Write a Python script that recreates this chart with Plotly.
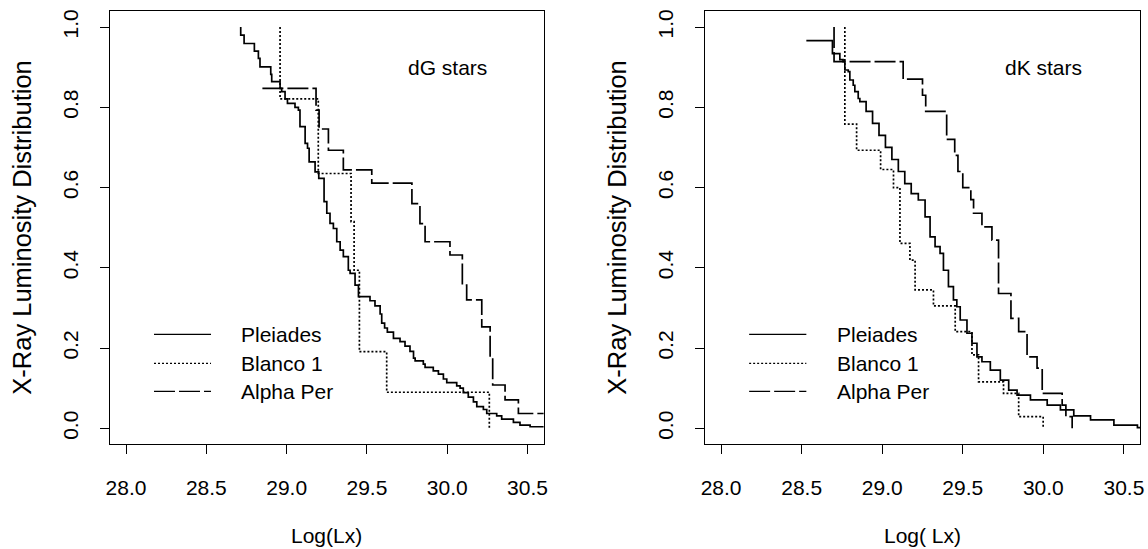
import plotly.graph_objects as go

W, H = 1148, 549

# ---- dG stars: step locations (log Lx) and distribution level after each step ----
plei_g_lx = [28.714, 28.714, 28.735, 28.799, 28.824, 28.834, 28.901, 28.907, 28.959, 28.969,
             28.990, 29.005, 29.052, 29.073, 29.083, 29.115, 29.130, 29.140, 29.177, 29.200,
             29.233, 29.250, 29.270, 29.291, 29.312, 29.333, 29.353, 29.384, 29.395, 29.426,
             29.447, 29.519, 29.550, 29.582, 29.592, 29.610, 29.627, 29.665, 29.706, 29.737,
             29.768, 29.790, 29.800, 29.851, 29.862, 29.913, 29.945, 29.976, 29.997, 30.059,
             30.080, 30.100, 30.131, 30.163, 30.184, 30.225, 30.246, 30.308, 30.339, 30.412,
             30.453, 30.516, 30.650]
plei_g_frac = [1.000, 0.980, 0.959, 0.940, 0.922, 0.901, 0.882, 0.864, 0.847, 0.839,
               0.821, 0.810, 0.800, 0.793, 0.752, 0.710, 0.698, 0.664, 0.639, 0.623,
               0.565, 0.536, 0.511, 0.498, 0.465, 0.444, 0.428, 0.394, 0.386, 0.357,
               0.328, 0.318, 0.305, 0.285, 0.262, 0.250, 0.240, 0.224, 0.216, 0.205,
               0.192, 0.175, 0.168, 0.160, 0.152, 0.143, 0.135, 0.123, 0.114, 0.106,
               0.100, 0.089, 0.078, 0.066, 0.054, 0.047, 0.037, 0.031, 0.023, 0.015,
               0.008, 0.004, 0.004]

blan_g_lx = [28.959, 28.959, 29.197, 29.401, 29.420, 29.453, 29.623, 30.262]
blan_g_frac = [1.000, 0.821, 0.635, 0.515, 0.394, 0.191, 0.090, 0.000]

alph_g_lx = [28.849, 29.183, 29.202, 29.260, 29.353, 29.530, 29.780, 29.830, 29.862, 30.017,
             30.094, 30.121, 30.215, 30.267, 30.283, 30.360, 30.443, 30.650]
alph_g_frac = [0.847, 0.793, 0.746, 0.693, 0.644, 0.611, 0.560, 0.510, 0.465, 0.432,
               0.357, 0.320, 0.253, 0.178, 0.108, 0.071, 0.037, 0.037]

# ---- dK stars ----
plei_k_lx = [28.529, 28.691, 28.737, 28.757, 28.768, 28.789, 28.799, 28.820, 28.830, 28.851,
             28.861, 28.900, 28.940, 28.980, 29.020, 29.060, 29.100, 29.140, 29.180, 29.224,
             29.266, 29.297, 29.328, 29.359, 29.380, 29.411, 29.442, 29.463, 29.484, 29.526,
             29.557, 29.588, 29.619, 29.671, 29.733, 29.785, 29.837, 29.920, 30.024, 30.106,
             30.189, 30.293, 30.438, 30.584, 30.650]
plei_k_frac = [0.966, 0.934, 0.919, 0.914, 0.893, 0.889, 0.868, 0.855, 0.839, 0.822,
               0.814, 0.790, 0.760, 0.730, 0.700, 0.670, 0.640, 0.610, 0.585, 0.569,
               0.527, 0.477, 0.453, 0.436, 0.394, 0.353, 0.320, 0.303, 0.270, 0.237,
               0.212, 0.178, 0.166, 0.145, 0.120, 0.095, 0.083, 0.071, 0.058, 0.046,
               0.031, 0.021, 0.008, 0.002, 0.002]

blan_k_lx = [28.768, 28.768, 28.841, 28.990, 29.070, 29.110, 29.172, 29.204, 29.318, 29.453,
             29.557, 29.598, 29.753, 29.847, 29.999]
blan_k_frac = [1.000, 0.758, 0.693, 0.645, 0.600, 0.461, 0.419, 0.345, 0.305, 0.241,
               0.183, 0.116, 0.087, 0.029, 0.000]

alph_k_lx = [28.701, 28.701, 29.130, 29.250, 29.270, 29.400, 29.450, 29.470, 29.500, 29.550,
             29.567, 29.619, 29.681, 29.722, 29.799, 29.847, 29.899, 29.961, 29.993, 30.117,
             30.140, 30.179]
alph_k_frac = [1.000, 0.914, 0.870, 0.830, 0.790, 0.720, 0.680, 0.640, 0.600, 0.570,
               0.536, 0.502, 0.469, 0.336, 0.274, 0.241, 0.178, 0.150, 0.087, 0.058,
               0.029, 0.000]

series_names = ["Pleiades", "Blanco 1", "Alpha Per"]
series_dash = ["solid", "2px,2px", "21px,4px"]
panel_labels = ["dG stars", "dK stars"]
x_titles = ["Log(Lx)", "Log( Lx)"]
y_title = "X-Ray Luminosity Distribution"
x_ticks = [28.0, 28.5, 29.0, 29.5, 30.0, 30.5]
y_ticks = [0.0, 0.2, 0.4, 0.6, 0.8, 1.0]

panels = [
    [(plei_g_lx, plei_g_frac), (blan_g_lx, blan_g_frac), (alph_g_lx, alph_g_frac)],
    [(plei_k_lx, plei_k_frac), (blan_k_lx, blan_k_frac), (alph_k_lx, alph_k_frac)],
]

FONT = "Liberation Sans, Arial, Helvetica, sans-serif"
FS = 21
FS_YTITLE = 25.5

# plot-area boxes in pixels (left, right), shared top/bottom
boxes_px = [(110, 543.6), (705, 1140)]
top_px, bot_px = 11, 444.4

fig = go.Figure()

for p, curves in enumerate(panels):
    xa = "x" if p == 0 else "x2"
    ya = "y" if p == 0 else "y2"
    for (lx, fr), name, dash in zip(curves, series_names, series_dash):
        fig.add_trace(go.Scatter(
            x=lx, y=fr, mode="lines", line_shape="hv",
            line=dict(color="black", width=1.7, dash=dash),
            name=name, showlegend=False, xaxis=xa, yaxis=ya, hoverinfo="skip"))

axis_common = dict(
    showgrid=False, zeroline=False, showline=True, linecolor="black", linewidth=1,
    mirror=True, ticks="outside", ticklen=9, tickwidth=1, tickcolor="black",
    tickfont=dict(family=FONT, size=FS, color="black"), automargin=False,
)

layout_axes = {}
for p, (l, r) in enumerate(boxes_px):
    sfx = "" if p == 0 else "2"
    layout_axes["xaxis" + sfx] = dict(
        axis_common, domain=[l / W, r / W], range=[27.9, 30.6],
        tickvals=x_ticks, ticktext=[f"{v:.1f}" for v in x_ticks],
        anchor="y" + sfx, ticklabelstandoff=15)
    layout_axes["yaxis" + sfx] = dict(
        axis_common, domain=[1 - bot_px / H, 1 - top_px / H], range=[-0.04, 1.04],
        tickvals=y_ticks, ticktext=[f"{v:.1f}" for v in y_ticks], tickangle=-90,
        anchor="x" + sfx, ticklabelstandoff=14)

annotations = []
shapes = []
legend_rows = [0.234, 0.162, 0.092]
for p, (l, r) in enumerate(boxes_px):
    sfx = "" if p == 0 else "2"
    xr, yr = "x" + sfx, "y" + sfx
    annotations.append(dict(x=30.0, y=0.9, xref=xr, yref=yr, text=panel_labels[p],
                            xanchor="center", yanchor="middle", showarrow=False,
                            font=dict(family=FONT, size=FS, color="black")))
    for name, dash, yy in zip(series_names, series_dash, legend_rows):
        shapes.append(dict(type="line", xref=xr, yref=yr, x0=28.174, x1=28.529, y0=yy, y1=yy,
                           line=dict(color="black", width=1.2, dash=dash)))
        annotations.append(dict(x=28.704, y=yy, xref=xr, yref=yr, text=name,
                                xanchor="left", yanchor="middle", showarrow=False,
                                font=dict(family=FONT, size=FS, color="black")))
    cx = (l + r) / 2
    annotations.append(dict(x=cx / W, y=1 - 535 / H, xref="paper", yref="paper",
                            text=x_titles[p], xanchor="center", yanchor="middle",
                            showarrow=False, font=dict(family=FONT, size=FS, color="black")))
    annotations.append(dict(x=(l - 88) / W, y=1 - (top_px + bot_px) / 2 / H,
                            xref="paper", yref="paper", text=y_title, textangle=-90,
                            xanchor="center", yanchor="middle", showarrow=False,
                            font=dict(family=FONT, size=FS_YTITLE, color="black")))

fig.update_layout(
    width=W, height=H, margin=dict(l=0, r=0, t=0, b=0),
    paper_bgcolor="white", plot_bgcolor="white", showlegend=False,
    annotations=annotations, shapes=shapes, **layout_axes)

fig.write_html("out.html")
